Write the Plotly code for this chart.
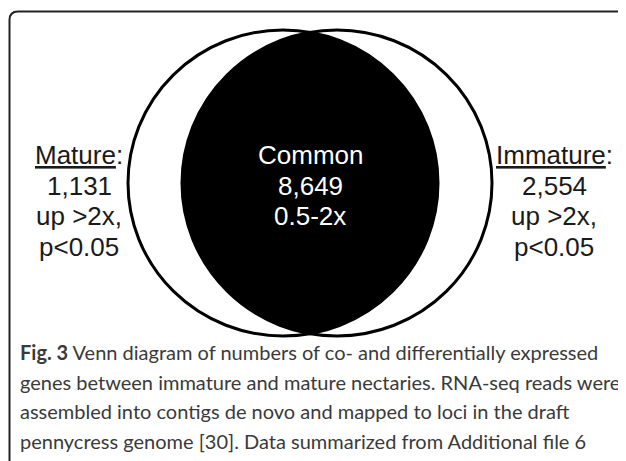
import numpy as np
import plotly.graph_objects as go

# ---- data ----
set_names = ["Mature", "Common", "Immature"]
set_counts = [1131, 8649, 2554]
mature_lines = ["<u>Mature</u>:", f"{set_counts[0]:,}", "up >2x,", "p<0.05"]
common_lines = [set_names[1], f"{set_counts[1]:,}", "0.5-2x"]
immature_lines = ["<u>Immature</u>:", f"{set_counts[2]:,}", "up >2x,", "p<0.05"]
caption_lines = [
    "<b>Fig. 3</b> Venn diagram of numbers of co- and differentially expressed",
    "genes between immature and mature nectaries. RNA-seq reads were",
    "assembled into contigs de novo and mapped to loci in the draft",
    "pennycress genome [30]. Data summarized from Additional file 6",
]

# page has an 8px body margin: map axes so that data units == screenshot pixels
OFF = 8
W, H = 626, 461
cy, rx, ry = 183, 155, 153
cx_left, cx_right = 283, 337

fig = go.Figure()

d = (cx_right - cx_left) / 2
th0 = np.arccos(d / rx)
t1 = np.linspace(-th0, th0, 200)
xl = cx_left + rx * np.cos(t1)
yl = cy + ry * np.sin(t1)
t2 = np.linspace(np.pi + th0, np.pi - th0, 200)
xr = cx_right + rx * np.cos(t2)
yr = cy + ry * np.sin(t2)
xs = np.concatenate([xl, xr])
ys = np.concatenate([yl, yr])
path = "M " + " L ".join(f"{x:.2f},{y:.2f}" for x, y in zip(xs, ys)) + " Z"

shapes = [
    dict(type="path", path=path, xref="x", yref="y", fillcolor="black",
         line=dict(width=0), layer="above"),
    dict(type="circle", xref="x", yref="y", x0=cx_left - rx, x1=cx_left + rx,
         y0=cy - ry, y1=cy + ry, line=dict(color="black", width=3), layer="above"),
    dict(type="circle", xref="x", yref="y", x0=cx_right - rx, x1=cx_right + rx,
         y0=cy - ry, y1=cy + ry, line=dict(color="black", width=3), layer="above"),
    dict(type="path", path="M 9.5,475 L 9.5,20 Q 9.5,11.5 18,11.5 L 626,11.5",
         xref="x", yref="y", line=dict(color="#222222", width=2), layer="above"),
]

annotations = []
venn_font = dict(family="Liberation Sans, Arial", size=26)
line_y = [155, 186, 216, 247]
for yv, t in zip(line_y, mature_lines):
    annotations.append(dict(x=79, y=yv, xref="x", yref="y", showarrow=False,
                            text=t, font=dict(color="#1a1a1a", **venn_font)))
for yv, t in zip(line_y, common_lines):
    annotations.append(dict(x=310, y=yv, xref="x", yref="y", showarrow=False,
                            text=t, font=dict(color="white", **venn_font)))
for yv, t in zip(line_y, immature_lines):
    annotations.append(dict(x=554, y=yv, xref="x", yref="y", showarrow=False,
                            text=t, font=dict(color="#1a1a1a", **venn_font)))

cap_y = [352, 382, 411, 441]
for yv, line in zip(cap_y, caption_lines):
    annotations.append(dict(
        x=18, y=yv, xref="x", yref="y", xanchor="left", yanchor="middle",
        showarrow=False, text=line,
        font=dict(family="Lato", size=20, color="#3a3a3a")))

fig.update_layout(
    width=W - OFF, height=H - OFF, margin=dict(l=0, r=0, t=0, b=0),
    paper_bgcolor="white", plot_bgcolor="white",
    xaxis=dict(range=[OFF, W], visible=False, fixedrange=True),
    yaxis=dict(range=[H, OFF], visible=False, fixedrange=True),
    shapes=shapes, annotations=annotations, showlegend=False,
)

fig.write_html("out.html")
